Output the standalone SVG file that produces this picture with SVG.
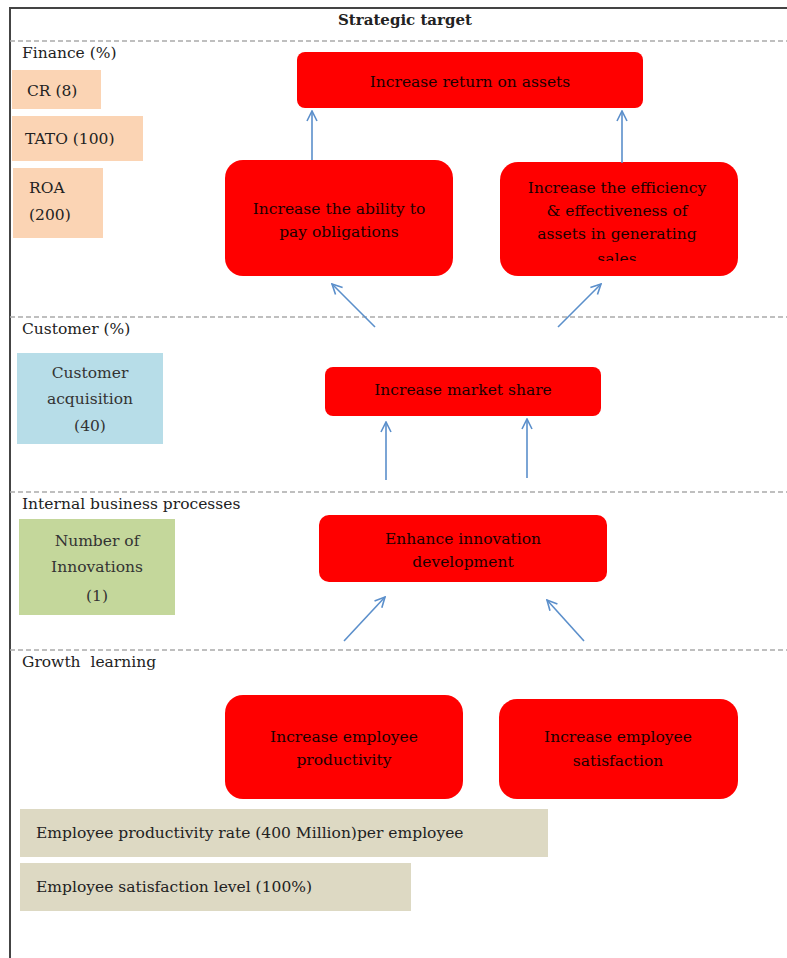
<svg xmlns="http://www.w3.org/2000/svg" width="787" height="958" viewBox="0 0 787 958">
<defs>
<style>
.t{font-family:"DejaVu Serif","Liberation Serif",serif;font-size:15.5px;fill:#222}
.r{font-family:"DejaVu Serif","Liberation Serif",serif;font-size:15.5px;fill:#1a0000;text-anchor:middle}
.m{font-family:"DejaVu Serif","Liberation Serif",serif;font-size:15.5px;fill:#333;text-anchor:middle}
.red{fill:#ff0000}
.dash{stroke:#aaa;stroke-width:1.3;stroke-dasharray:5,3;fill:none}
.arr{stroke:#5b8fcb;stroke-width:1.6;fill:none;marker-end:url(#ah)}
</style>
<marker id="ah" viewBox="0 0 12 12" refX="11" refY="6" markerWidth="12" markerHeight="12" markerUnits="userSpaceOnUse" orient="auto">
<path d="M1,1 L11,6 L1,11" fill="none" stroke="#5b8fcb" stroke-width="1.6"/>
</marker>
<clipPath id="c3"><rect x="500" y="162" width="238" height="99"/></clipPath>
</defs>
<rect width="787" height="958" fill="#fff"/>
<g id="frame">
<path d="M10,958 V8 H787" fill="none" stroke="#444" stroke-width="2"/>
<text x="405" y="25" style="font-family:'DejaVu Serif','Liberation Serif',serif;font-size:15px;font-weight:bold;fill:#222;text-anchor:middle">Strategic target</text>
<line class="dash" x1="10" y1="41" x2="787" y2="41"/>
<line class="dash" x1="10" y1="317" x2="787" y2="317"/>
<line class="dash" x1="10" y1="492" x2="787" y2="492"/>
<line class="dash" x1="10" y1="650" x2="787" y2="650"/>
<text class="t" x="22" y="58">Finance (%)</text>
<text class="t" x="22" y="334">Customer (%)</text>
<text class="t" x="22" y="509">Internal business processes</text>
<text class="t" x="22" y="667" style="white-space:pre">Growth  learning</text>
</g>
<g id="cr"><rect x="12" y="70" width="89" height="39" fill="#fbd4b4"/><text class="t" x="27" y="96">CR (8)</text></g>
<g id="tato"><rect x="12" y="116" width="131" height="45" fill="#fbd4b4"/><text class="t" x="25" y="144">TATO (100)</text></g>
<g id="roa"><rect x="13" y="168" width="90" height="70" fill="#fbd4b4"/><text class="t" x="29" y="193">ROA</text><text class="t" x="29" y="220">(200)</text></g>
<g id="n1"><rect class="red" x="297" y="52" width="346" height="56" rx="8"/><text class="r" x="470" y="87">Increase return on assets</text></g>
<g id="n2"><rect class="red" x="225" y="160" width="228" height="116" rx="18"/><text class="r" x="339" y="214">Increase the ability to</text><text class="r" x="339" y="237">pay obligations</text></g>
<g id="n3"><rect class="red" x="500" y="162" width="238" height="114" rx="18"/><text class="r" x="617" y="193">Increase the efficiency</text><text class="r" x="617" y="216">&amp; effectiveness of</text><text class="r" x="617" y="239">assets in generating</text><text class="r" x="617" y="264" clip-path="url(#c3)">sales</text></g>
<g id="cust"><rect x="17" y="353" width="146" height="91" fill="#b7dde8"/><text class="m" x="90" y="378">Customer</text><text class="m" x="90" y="404">acquisition</text><text class="m" x="90" y="431">(40)</text></g>
<g id="n4"><rect class="red" x="325" y="367" width="276" height="49" rx="8"/><text class="r" x="463" y="395">Increase market share</text></g>
<g id="innov"><rect x="19" y="519" width="156" height="96" fill="#c4d79b"/><text class="m" x="97" y="546">Number of</text><text class="m" x="97" y="572">Innovations</text><text class="m" x="97" y="601">(1)</text></g>
<g id="n5"><rect class="red" x="319" y="515" width="288" height="67" rx="10"/><text class="r" x="463" y="544">Enhance innovation</text><text class="r" x="463" y="567">development</text></g>
<g id="n6"><rect class="red" x="225" y="695" width="238" height="104" rx="18"/><text class="r" x="344" y="742">Increase employee</text><text class="r" x="344" y="765">productivity</text></g>
<g id="n7"><rect class="red" x="499" y="699" width="239" height="100" rx="18"/><text class="r" x="618" y="742">Increase employee</text><text class="r" x="618" y="766">satisfaction</text></g>
<g id="prod"><rect x="20" y="809" width="528" height="48" fill="#ddd9c3"/><text class="t" x="36" y="838">Employee productivity rate (400 Million)per employee</text></g>
<g id="sat"><rect x="20" y="863" width="391" height="48" fill="#ddd9c3"/><text class="t" x="36" y="892">Employee satisfaction level (100%)</text></g>
<g id="connectors">
<line class="arr" x1="312" y1="160" x2="312" y2="111"/>
<line class="arr" x1="622" y1="163" x2="622" y2="111"/>
<line class="arr" x1="375" y1="327" x2="332" y2="284"/>
<line class="arr" x1="558" y1="327" x2="601" y2="284"/>
<line class="arr" x1="386" y1="480" x2="386" y2="422"/>
<line class="arr" x1="527" y1="478" x2="527" y2="419"/>
<line class="arr" x1="344" y1="641" x2="385" y2="597"/>
<line class="arr" x1="584" y1="641" x2="547" y2="600"/>
</g>
</svg>
